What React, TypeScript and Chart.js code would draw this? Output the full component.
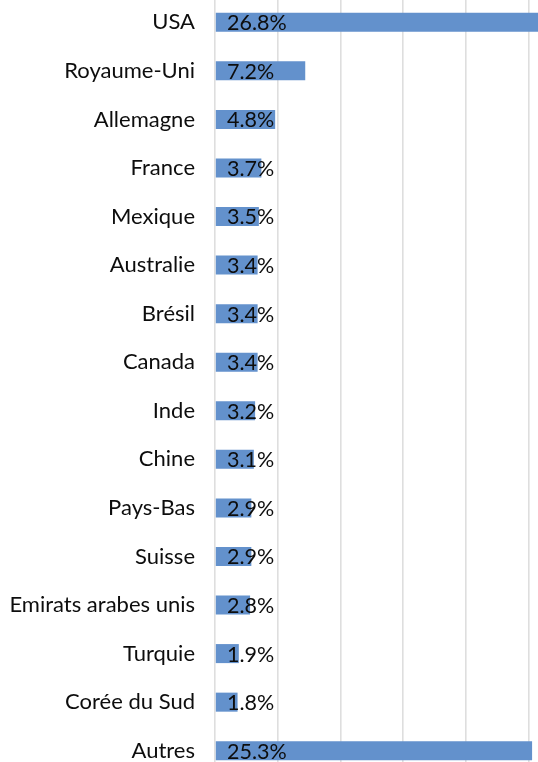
import React, { useEffect, useRef } from "react";
import { Chart, registerables } from "chart.js";

Chart.register(...registerables);

const categories = [
  "USA", "Royaume-Uni", "Allemagne", "France", "Mexique", "Australie", "Brésil", "Canada",
  "Inde", "Chine", "Pays-Bas", "Suisse", "Emirats arabes unis", "Turquie", "Corée du Sud", "Autres",
];
const shares = [26.8, 7.2, 4.8, 3.7, 3.5, 3.4, 3.4, 3.4, 3.2, 3.1, 2.9, 2.9, 2.8, 1.9, 1.8, 25.3];
const shareLabels = ["26.8%", "7.2%", "4.8%", "3.7%", "3.5%", "3.4%", "3.4%", "3.4%", "3.2%", "3.1%", "2.9%", "2.9%", "2.8%", "1.9%", "1.8%", "25.3%"];

const FONT = "Lato, 'Noto Sans', sans-serif";

const labelPlugin = {
  id: "insideLabels",
  afterDatasetsDraw(chart: any) {
    const ctx = chart.ctx;
    const meta = chart.getDatasetMeta(0);
    const left = chart.chartArea.left;
    ctx.save();
    ctx.font = `21.5px ${FONT}`;
    ctx.fillStyle = "#0d0d0d";
    ctx.textAlign = "left";
    ctx.textBaseline = "middle";
    meta.data.forEach((bar: any, i: number) => {
      ctx.fillText(shareLabels[i], left + 12, bar.y + 1);
    });
    ctx.restore();
  },
};

export default function App() {
  const ref = useRef<HTMLCanvasElement>(null);
  useEffect(() => {
    if (!ref.current) return;
    const chart = new Chart(ref.current, {
      type: "bar",
      data: {
        labels: categories,
        datasets: [
          {
            data: shares,
            backgroundColor: "#6391cc",
            barPercentage: 0.8,
            categoryPercentage: 0.49,
          },
        ],
      },
      options: {
        indexAxis: "y",
        animation: false,
        responsive: false,
        maintainAspectRatio: false,
        layout: { padding: { top: 0, right: 9, bottom: 0, left: 0 } },
        plugins: { legend: { display: false }, tooltip: { enabled: false } },
        scales: {
          x: {
            min: 0,
            max: 30,
            ticks: { display: false, stepSize: 5 },
            grid: { color: "#dedede", lineWidth: 1.6, drawTicks: false },
            border: { display: false },
            afterFit: (s: any) => { s.height = 0; s.paddingLeft = 0; s.paddingRight = 0; },
          },
          y: {
            ticks: { color: "#0d0d0d", font: { family: FONT, size: 22 }, padding: 20 },
            grid: { display: false, drawTicks: false },
            border: { display: false },
            afterFit: (s: any) => { s.width = 215; s.paddingTop = 0; s.paddingBottom = 0; },
          },
        },
      },
      plugins: [labelPlugin],
    });
    return () => chart.destroy();
  }, []);
  return (
    <div style={{ position: "fixed", left: 0, top: 0, width: 538, height: 762, overflow: "hidden", background: "#fff" }}>
      <canvas ref={ref} width={600} height={777} style={{ position: "absolute", left: 0, top: -2, width: 600, height: 777 }} />
    </div>
  );
}
